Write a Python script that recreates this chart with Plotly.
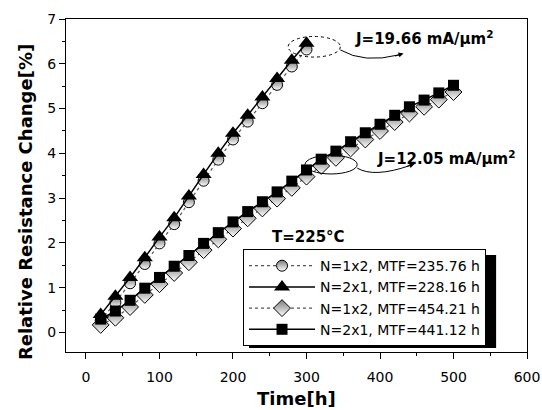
import plotly.graph_objects as go

# ---- data ----
t_short = [20, 40, 60, 80, 100, 120, 140, 160, 180, 200, 220, 240, 260, 280, 300]
y_1x2_a = [0.27, 0.67, 1.10, 1.53, 1.99, 2.42, 2.91, 3.39, 3.86, 4.31, 4.71, 5.12, 5.53, 5.94, 6.32]
y_2x1_a = [0.40, 0.81, 1.23, 1.67, 2.13, 2.56, 3.05, 3.53, 4.00, 4.45, 4.85, 5.26, 5.67, 6.08, 6.46]

t_long = [20, 40, 60, 80, 100, 120, 140, 160, 180, 200, 220, 240, 260, 280, 300,
          320, 340, 360, 380, 400, 420, 440, 460, 480, 500]
y_1x2_b = [0.17, 0.33, 0.57, 0.84, 1.08, 1.33, 1.57, 1.84, 2.08, 2.32, 2.55, 2.77, 2.99,
           3.23, 3.48, 3.72, 3.90, 4.11, 4.31, 4.50, 4.70, 4.89, 5.04, 5.20, 5.37]
y_2x1_b = [0.30, 0.48, 0.72, 0.99, 1.23, 1.48, 1.72, 1.99, 2.23, 2.47, 2.70, 2.92, 3.14,
           3.38, 3.63, 3.87, 4.05, 4.26, 4.46, 4.65, 4.85, 5.04, 5.19, 5.35, 5.52]

names = ["N=1x2, MTF=235.76 h", "N=2x1, MTF=228.16 h",
         "N=1x2, MTF=454.21 h", "N=2x1, MTF=441.12 h"]

x_ticks = [0, 100, 200, 300, 400, 500, 600]
y_ticks = [0, 1, 2, 3, 4, 5, 6, 7]

FONT = "DejaVu Sans, sans-serif"

fig = go.Figure()

half = dict(color="#7a7a7a", gradient=dict(type="vertical", color="white"),
            line=dict(color="black", width=1))

# half-filled circles (under triangles)
fig.add_trace(go.Scatter(x=t_short, y=y_1x2_a, name=names[0], mode="lines+markers",
                         line=dict(color="#555555", width=1.2, dash="dot"),
                         marker=dict(symbol="circle", size=11, **half)))
# half-filled diamonds (under squares)
fig.add_trace(go.Scatter(x=t_long, y=y_1x2_b, name=names[2], mode="lines+markers",
                         line=dict(color="#555555", width=1.2, dash="dot"),
                         marker=dict(symbol="diamond", size=13, **half)))
# triangles
fig.add_trace(go.Scatter(x=t_short, y=y_2x1_a, name=names[1], mode="lines+markers",
                         line=dict(color="black", width=1.5),
                         marker=dict(symbol="triangle-up", size=14, color="black")))
# squares
fig.add_trace(go.Scatter(x=t_long, y=y_2x1_b, name=names[3], mode="lines+markers",
                         line=dict(color="black", width=1.5),
                         marker=dict(symbol="square", size=11, color="black")))

# legend order like the reference
for tr, rank in zip(fig.data, [1, 3, 2, 4]):
    tr.legendrank = rank

# ellipses and curved arrows (data coordinates)
fig.add_shape(type="circle", xref="x", yref="y", x0=275, x1=346, y0=6.15, y1=6.61,
              line=dict(color="black", width=1, dash="dot"))
fig.add_shape(type="circle", xref="x", yref="y", x0=298, x1=369, y0=3.54, y1=3.96,
              line=dict(color="black", width=1))
fig.add_shape(type="path", xref="x", yref="y",
              path="M 346,6.31 Q 378,6.0 426,6.2", line=dict(color="black", width=1))
fig.add_shape(type="path", xref="x", yref="y",
              path="M 369,3.67 Q 392,3.45 441,3.73", line=dict(color="black", width=1))
fig.add_annotation(x=432, y=6.23, xref="x", yref="y", text="", showarrow=True,
                   ax=-10, ay=3, arrowhead=2, arrowsize=1, arrowwidth=1, arrowcolor="black")
fig.add_annotation(x=447, y=3.76, xref="x", yref="y", text="", showarrow=True,
                   ax=-10, ay=3, arrowhead=2, arrowsize=1, arrowwidth=1, arrowcolor="black")

fig.add_annotation(x=460, y=6.58, xref="x", yref="y", showarrow=False,
                   text="J=19.66 mA/μm<sup>2</sup>",
                   font=dict(family=FONT, size=15, color="black", weight="bold"))
fig.add_annotation(x=491, y=3.90, xref="x", yref="y", showarrow=False,
                   text="J=12.05 mA/μm<sup>2</sup>",
                   font=dict(family=FONT, size=15, color="black", weight="bold"))
fig.add_annotation(x=303, y=2.13, xref="x", yref="y", showarrow=False,
                   text="T=225°C",
                   font=dict(family=FONT, size=15, color="black", weight="bold"))

# axis titles as positioned annotations
fig.add_annotation(x=-0.089, y=0.45, xref="paper", yref="paper", showarrow=False,
                   text="Relative Resistance Change[%]", textangle=-90,
                   xanchor="center", yanchor="middle",
                   font=dict(family=FONT, size=18, color="black", weight="bold"))
fig.add_annotation(x=0.5, y=-0.141, xref="paper", yref="paper", showarrow=False,
                   text="Time[h]", xanchor="center", yanchor="middle",
                   font=dict(family=FONT, size=18, color="black", weight="bold"))

# legend shadow
fig.add_shape(type="rect", xref="paper", yref="paper", layer="above",
              x0=0.397, x1=0.933, y0=0.012, y1=0.291,
              fillcolor="black", line=dict(width=0))

axis_common = dict(showline=True, linecolor="black", linewidth=1.2, mirror=True,
                   ticks="outside", ticklen=6, tickwidth=1, tickcolor="black",
                   showgrid=False, zeroline=False, automargin=False,
                   tickfont=dict(family=FONT, size=14, color="black"))

fig.update_xaxes(range=[-27.2, 600], tickvals=x_ticks, ticktext=[str(v) for v in x_ticks],
                 minor=dict(dtick=50, ticks="outside", ticklen=3, tickcolor="black"),
                 ticklabelstandoff=6,
                 **axis_common)
fig.update_yaxes(range=[-0.435, 7], tickvals=y_ticks, ticktext=[str(v) for v in y_ticks],
                 minor=dict(dtick=0.5, ticks="outside", ticklen=3, tickcolor="black"),
                 **axis_common)

fig.update_layout(
    width=542, height=410,
    margin=dict(l=66, r=15, t=19, b=58, autoexpand=False),
    paper_bgcolor="white", plot_bgcolor="white",
    font=dict(family=FONT, color="black"),
    legend=dict(x=0.384, y=0.309, xanchor="left", yanchor="top",
                bgcolor="white", bordercolor="black", borderwidth=1,
                font=dict(family=FONT, size=14, color="black"),
                tracegroupgap=0, itemwidth=66),
)

fig.write_html("out.html")
